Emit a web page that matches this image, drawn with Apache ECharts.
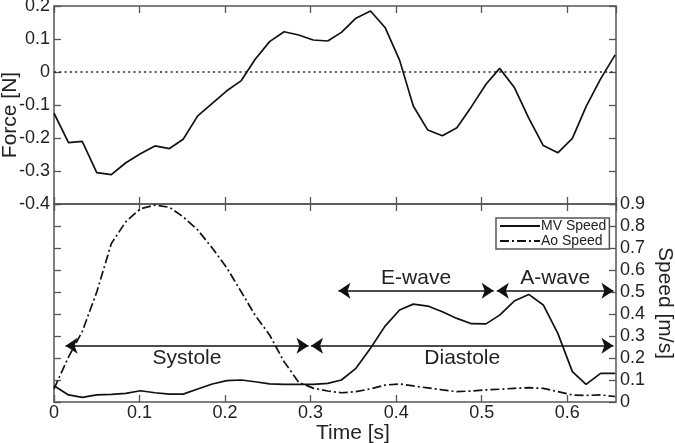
<!DOCTYPE html>
<html>
<head>
<meta charset="utf-8">
<script src="https://cdn.jsdelivr.net/npm/echarts@6/dist/echarts.min.js"></script>
<style>
html,body{margin:0;padding:0;background:#fff;}
#chart{width:675px;height:443px;}
</style>
</head>
<body>
<div id="chart"></div>
<script>
// ---- data ----
const time = [0, 0.017, 0.033, 0.050, 0.067, 0.084, 0.101, 0.118, 0.135, 0.151,
  0.168, 0.185, 0.202, 0.219, 0.235, 0.252, 0.269, 0.286, 0.303, 0.320,
  0.336, 0.353, 0.370, 0.387, 0.404, 0.420, 0.437, 0.454, 0.471, 0.488,
  0.505, 0.521, 0.538, 0.555, 0.572, 0.589, 0.606, 0.622, 0.639, 0.656];
const force = [-0.125, -0.214, -0.210, -0.305, -0.311, -0.275, -0.248, -0.224, -0.232, -0.204,
  -0.133, -0.095, -0.057, -0.026, 0.038, 0.092, 0.122, 0.112, 0.097, 0.094,
  0.120, 0.163, 0.185, 0.135, 0.036, -0.103, -0.176, -0.193, -0.169, -0.105,
  -0.037, 0.011, -0.046, -0.140, -0.223, -0.245, -0.201, -0.105, -0.021, 0.052];
const mvSpeed = [0.074, 0.032, 0.021, 0.032, 0.035, 0.039, 0.051, 0.042, 0.036, 0.036,
  0.059, 0.082, 0.097, 0.100, 0.092, 0.082, 0.080, 0.080, 0.080, 0.085,
  0.100, 0.153, 0.244, 0.345, 0.418, 0.445, 0.436, 0.410, 0.380, 0.356,
  0.355, 0.395, 0.459, 0.489, 0.441, 0.312, 0.138, 0.080, 0.130, 0.130];
const aoSpeed = [0.060, 0.205, 0.320, 0.500, 0.720, 0.820, 0.878, 0.895, 0.885, 0.842,
  0.782, 0.700, 0.610, 0.500, 0.395, 0.305, 0.183, 0.090, 0.063, 0.050,
  0.042, 0.047, 0.060, 0.077, 0.082, 0.073, 0.064, 0.055, 0.047, 0.050,
  0.055, 0.058, 0.062, 0.065, 0.062, 0.047, 0.032, 0.030, 0.032, 0.025];
const phaseNames = ['Systole', 'Diastole', 'E-wave', 'A-wave'];
const phaseStart = [0.0135, 0.3005, 0.3326, 0.5177];
const phaseEnd   = [0.2975, 0.654, 0.514, 0.654];
const phaseLevel = [0.256, 0.256, 0.506, 0.506];
const phaseLabelSide = ['below', 'below', 'above', 'above'];
const seriesNames = ['MV Speed', 'Ao Speed'];

// ---- chart ----
const FONT = '"Liberation Sans", Arial, Helvetica, sans-serif';
const AXC = '#555';
const TXT = '#222';
const X_MAX = 0.657;

const pair = (xs, ys) => xs.map((x, i) => [x, ys[i]]);
const tenth = v => Math.abs(v * 10 - Math.round(v * 10)) < 1e-6;

function xAx(grid, pos, labels, extra) {
  return Object.assign({
    type: 'value', gridIndex: grid, position: pos, min: 0, max: X_MAX, interval: 0.1,
    axisLine: { show: true, onZero: false, lineStyle: { color: AXC, width: 1.5 } },
    axisTick: { show: true, inside: true, length: 7, lineStyle: { color: AXC, width: 1.3 } },
    axisLabel: { show: labels, showMaxLabel: false, margin: 2, fontSize: 18, color: TXT, fontFamily: FONT,
      formatter: v => tenth(v) ? String(Math.round(v * 10) / 10) : '' },
    splitLine: { show: false }
  }, extra || {});
}
function yAx(grid, pos, min, max, labels, extra) {
  return Object.assign({
    type: 'value', gridIndex: grid, position: pos, min: min, max: max, interval: 0.1,
    axisLine: { show: true, onZero: false, lineStyle: { color: AXC, width: 1.5 } },
    axisTick: { show: true, inside: true, length: 7, lineStyle: { color: AXC, width: 1.3 } },
    axisLabel: { show: labels, margin: 4, fontSize: 18, color: TXT, fontFamily: FONT,
      formatter: v => String(Math.round(v * 10) / 10) },
    splitLine: { show: false }
  }, extra || {});
}

const phaseLines = phaseNames.map((n, i) => ([
  { coord: [phaseStart[i], phaseLevel[i]], name: n,
    label: { position: phaseLabelSide[i] === 'below' ? 'insideMiddleBottom' : 'insideMiddleTop' } },
  { coord: [phaseEnd[i], phaseLevel[i]] }
]));

const option = {
  animation: false,
  backgroundColor: '#fff',
  textStyle: { fontFamily: FONT },
  grid: [
    { left: 54, right: 59, top: 6, height: 198, containLabel: false, outerBoundsMode: 'none' },
    { left: 54, right: 59, top: 204, height: 198, containLabel: false, outerBoundsMode: 'none' }
  ],
  xAxis: [
    xAx(0, 'bottom', false),
    xAx(0, 'top', false),
    xAx(1, 'bottom', true, { name: 'Time [s]', nameLocation: 'middle', nameGap: 21,
      nameTextStyle: { fontSize: 21, color: TXT, fontFamily: FONT, padding: [0, 0, 0, 36] } }),
    xAx(1, 'top', false)
  ],
  yAxis: [
    yAx(0, 'left', -0.4, 0.2, true, { name: 'Force [N]', nameLocation: 'middle', nameGap: 33, nameRotate: 90,
      nameMoveOverlap: false,
      nameTextStyle: { fontSize: 21, color: TXT, fontFamily: FONT, padding: [0, 20, 0, 0] } }),
    yAx(0, 'right', -0.4, 0.2, false),
    yAx(1, 'right', 0, 0.9, true, { name: 'Speed [m/s]', nameLocation: 'middle', nameGap: 38, nameRotate: -90,
      nameMoveOverlap: false,
      nameTextStyle: { fontSize: 21, color: TXT, fontFamily: FONT } }),
    yAx(1, 'left', 0, 0.9, false)
  ],
  legend: {
    data: seriesNames, orient: 'vertical', left: 496, top: 218,
    itemWidth: 40, itemHeight: 13, itemGap: 1, padding: [1, 3, 1, 3],
    borderColor: AXC, borderWidth: 1.5, borderRadius: 0, backgroundColor: '#fff',
    itemStyle: { opacity: 0 },
    textStyle: { fontSize: 14, color: TXT, fontFamily: FONT, padding: [0, 0, 0, -4] }
  },
  series: [
    {
      name: 'Force', type: 'line', xAxisIndex: 0, yAxisIndex: 0,
      data: pair(time, force), showSymbol: false, symbol: 'none',
      lineStyle: { color: '#111', width: 1.7 }, z: 3,
      markLine: {
        silent: true, symbol: 'none', label: { show: false },
        lineStyle: { color: '#222', type: [2, 3.3], width: 1.6 },
        data: [{ yAxis: 0 }]
      }
    },
    {
      name: 'MV Speed', type: 'line', xAxisIndex: 2, yAxisIndex: 2,
      data: pair(time, mvSpeed), showSymbol: false, symbol: 'none',
      lineStyle: { color: '#111', width: 1.7 }, itemStyle: { color: '#111' }, z: 3,
      markLine: {
        silent: true, symbol: ['arrow', 'arrow'], symbolSize: 12, symbolOffset: 0,
        lineStyle: { color: '#111', type: 'solid', width: 1.6 },
        itemStyle: { color: '#111' },
        label: { show: true, formatter: '{b}', fontSize: 21, color: TXT, fontFamily: FONT, distance: 2 },
        data: phaseLines
      }
    },
    {
      name: 'Ao Speed', type: 'line', xAxisIndex: 2, yAxisIndex: 2,
      data: pair(time, aoSpeed), showSymbol: false, symbol: 'none',
      lineStyle: { color: '#111', width: 1.7, type: [9, 3, 2, 3] }, itemStyle: { color: '#111' }, z: 3
    }
  ]
};

const chart = echarts.init(document.getElementById('chart'), null, { renderer: 'canvas' });
chart.setOption(option);
</script>
</body>
</html>
